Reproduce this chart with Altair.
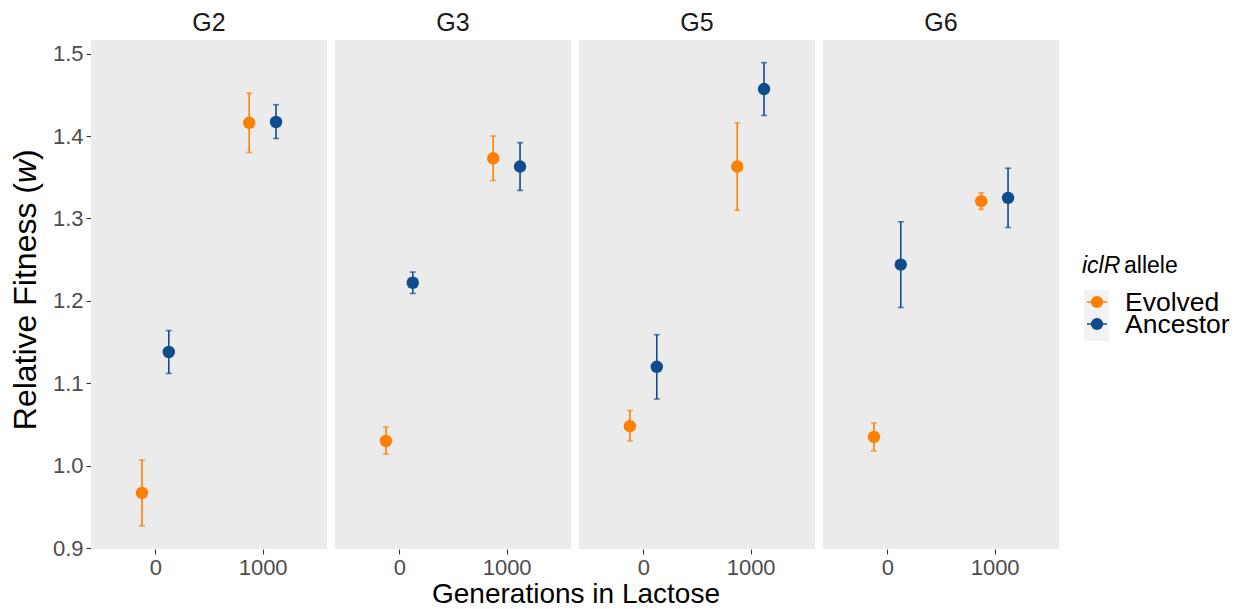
import altair as alt
import pandas as pd

panels = ["G2", "G3", "G5", "G6"]
alleles = ["Evolved", "Ancestor"]
generations = [0, 1000]

# order within each panel: Evolved@0, Ancestor@0, Evolved@1000, Ancestor@1000
fitness = {
    "G2": [0.967, 1.138, 1.416, 1.417],
    "G3": [1.030, 1.222, 1.373, 1.363],
    "G5": [1.048, 1.120, 1.363, 1.457],
    "G6": [1.035, 1.244, 1.321, 1.325],
}
lower = {
    "G2": [0.927, 1.112, 1.380, 1.397],
    "G3": [1.014, 1.209, 1.346, 1.334],
    "G5": [1.030, 1.081, 1.310, 1.425],
    "G6": [1.018, 1.192, 1.311, 1.289],
}
upper = {
    "G2": [1.007, 1.164, 1.452, 1.438],
    "G3": [1.047, 1.235, 1.400, 1.392],
    "G5": [1.067, 1.159, 1.416, 1.489],
    "G6": [1.052, 1.296, 1.331, 1.361],
}
y_ticks = [0.9, 1.0, 1.1, 1.2, 1.3, 1.4, 1.5]
x_ticks = [0, 1000]
colors = ["#FF8000", "#0F4C8D"]

rows = []
for p in panels:
    i = 0
    for g in generations:
        for a in alleles:
            rows.append(dict(panel=p, allele=a, gen=g, fit=fitness[p][i],
                             lo=lower[p][i], hi=upper[p][i]))
            i += 1
df = pd.DataFrame(rows)

FONT = "Liberation Sans"

xsc = alt.Scale(domain=[-600, 1600], nice=False, zero=False)
ysc = alt.Scale(domain=[0.899, 1.5165], nice=False, zero=False)
xenc = alt.X("xd:Q", scale=xsc,
             axis=alt.Axis(values=x_ticks, title=None, format="d"))
cscale = alt.Scale(domain=alleles, range=colors)
cenc = alt.Color("allele:N", scale=cscale, legend=None)

base = alt.Chart().transform_calculate(
    xd="datum.gen + (datum.allele == 'Evolved' ? -125 : 125)"
)

rules = base.mark_rule(strokeWidth=1.6).encode(
    x=xenc,
    y=alt.Y("lo:Q", scale=ysc,
            axis=alt.Axis(values=y_ticks, format=".1f", title=None)),
    y2="hi:Q",
    color=cenc,
)
cap_lo = base.mark_tick(orient="horizontal", size=6, thickness=1.6).encode(
    x=xenc, y=alt.Y("lo:Q", scale=ysc), color=cenc,
)
cap_hi = base.mark_tick(orient="horizontal", size=6, thickness=1.6).encode(
    x=xenc, y=alt.Y("hi:Q", scale=ysc), color=cenc,
)
points = base.mark_point(filled=True, size=155, opacity=1).encode(
    x=xenc, y=alt.Y("fit:Q", scale=ysc), color=cenc,
)

# ---- annotation layers (titles and the allele key) ----
one = "datum.panel == '{}' && datum.allele == '{}' && datum.gen == 0"


def pick(panel, allele="Evolved"):
    return base.transform_filter(one.format(panel, allele))


YT = 32
ytitle_a = pick("G2").mark_text(
    text="Relative Fitness (", angle=270, align="right", baseline="middle",
    fontSize=YT, font=FONT, color="#000000",
).encode(x=alt.value(-65), y=alt.value(143))
ytitle_b = pick("G2").mark_text(
    text="w", angle=270, align="left", baseline="middle",
    fontSize=YT, font=FONT, fontStyle="italic", color="#000000",
).encode(x=alt.value(-65), y=alt.value(143))
ytitle_c = pick("G2").mark_text(
    text=")", angle=270, align="left", baseline="middle",
    fontSize=YT, font=FONT, color="#000000",
).encode(x=alt.value(-65), y=alt.value(120))

xtitle = pick("G3").mark_text(
    text="Generations in Lactose", align="center", baseline="alphabetic",
    fontSize=28, font=FONT, color="#000000",
).encode(x=alt.value(241), y=alt.value(563))

ltitle_a = pick("G6").mark_text(
    text="iclR", align="left", baseline="alphabetic",
    fontSize=23, font=FONT, fontStyle="italic", color="#000000",
).encode(x=alt.value(259), y=alt.value(233))
ltitle_b = pick("G6").mark_text(
    text="allele", align="left", baseline="alphabetic",
    fontSize=23, font=FONT, color="#000000",
).encode(x=alt.value(301), y=alt.value(233))

key_bg = pick("G6").mark_rect(color="#F2F2F2").encode(
    x=alt.value(261), x2=alt.value(286), y=alt.value(250), y2=alt.value(301)
)
key_layers = [key_bg]
for allele, ky in zip(alleles, [262, 284]):
    key_layers.append(pick("G6", allele).mark_rule(strokeWidth=1.5).encode(
        x=alt.value(264), x2=alt.value(284), y=alt.value(ky), color=cenc))
    key_layers.append(pick("G6", allele).mark_point(
        filled=True, size=150, opacity=1).encode(
        x=alt.value(274), y=alt.value(ky), color=cenc))
    key_layers.append(pick("G6", allele).mark_text(
        align="left", baseline="alphabetic", fontSize=26.5, font=FONT,
        color="#000000").encode(
        x=alt.value(302), y=alt.value(ky + 9), text="allele:N"))

layered = alt.layer(
    rules, cap_lo, cap_hi, points,
    ytitle_a, ytitle_b, ytitle_c, xtitle, ltitle_a, ltitle_b, *key_layers,
).properties(width=236, height=509)

chart = layered.facet(
    data=df,
    column=alt.Column(
        "panel:N", sort=panels, title=None,
        header=alt.Header(labelFontSize=25, labelColor="#1A1A1A",
                          labelFont=FONT, labelPadding=4),
    ),
    spacing=8,
    bounds="flush",
).properties(
    background="white",
    padding={"left": 2, "top": 3, "right": 5, "bottom": 0},
).configure_view(
    fill="#EBEBEB", strokeWidth=0,
).configure_axis(
    grid=False, domain=False, tickColor="#333333", tickSize=5, tickWidth=1.1,
    labelColor="#4D4D4D", labelFontSize=22, labelFont=FONT, labelPadding=3,
)

chart.save("out.html", embed_options={"renderer": "svg", "actions": False})
